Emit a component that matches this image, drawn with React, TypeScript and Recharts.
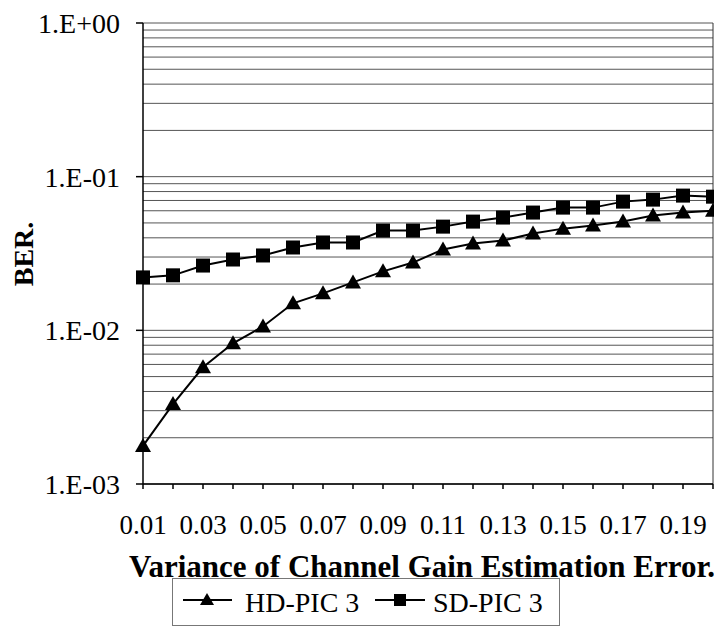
import { Label, Legend, Line, LineChart, ReferenceLine, XAxis, YAxis } from "recharts"

const variance = [
  0.01, 0.02, 0.03, 0.04, 0.05, 0.06, 0.07, 0.08, 0.09, 0.1,
  0.11, 0.12, 0.13, 0.14, 0.15, 0.16, 0.17, 0.18, 0.19, 0.2,
]

const hdPic3 = [
  0.00177, 0.00331, 0.00575, 0.00824, 0.0106, 0.015, 0.0174, 0.0205, 0.0242, 0.0276,
  0.0336, 0.0367, 0.0384, 0.0427, 0.0459, 0.0481, 0.051, 0.0558, 0.0584, 0.0601,
]

const sdPic3 = [
  0.0221, 0.0228, 0.0264, 0.0289, 0.0307, 0.0346, 0.0373, 0.0373, 0.0446, 0.0446,
  0.0473, 0.051, 0.0542, 0.0584, 0.0629, 0.0629, 0.0688, 0.0709, 0.0753, 0.0741,
]

const yTicks = [0.001, 0.01, 0.1, 1]
const yTickLabels = ["1.E-03", "1.E-02", "1.E-01", "1.E+00"]

// log gridlines: 1..9 within each decade, plus the top edge
const gridValues = [0.001, 0.01, 0.1].flatMap((d) => [1, 2, 3, 4, 5, 6, 7, 8, 9].map((k) => k * d)).concat([1])

const data = variance.map((x, i) => ({ x, hd: hdPic3[i], sd: sdPic3[i] }))

const FONT = "'Liberation Serif', 'DejaVu Serif', serif"

const TriangleDot = (props: any) => {
  const { cx, cy, index } = props
  if (cx == null || cy == null) return <g key={`t${index}`} />
  return <path key={`t${index}`} d={`M${cx},${cy - 8} L${cx + 8},${cy + 6} L${cx - 8},${cy + 6} Z`} fill="#000" />
}

const SquareDot = (props: any) => {
  const { cx, cy, index } = props
  if (cx == null || cy == null) return <g key={`s${index}`} />
  return <rect key={`s${index}`} x={cx - 7} y={cy - 7} width={14} height={14} fill="#000" />
}

const LegendBox = () => (
  <svg width={388} height={48} style={{ display: "block" }}>
    <rect x={0.5} y={0.5} width={387} height={47} fill="#fff" stroke="#777" />
    <line x1={11} x2={60} y1={22} y2={22} stroke="#000" strokeWidth={2} />
    <path d="M35,15 L42,27 L28,27 Z" fill="#000" />
    <text x={73} y={34} style={{ fontFamily: FONT, fontSize: 28 }} fill="#000">HD-PIC 3</text>
    <line x1={203} x2={253} y1={22} y2={22} stroke="#000" strokeWidth={2} />
    <rect x={222} y={16} width={12} height={12} fill="#000" />
    <text x={261} y={34} style={{ fontFamily: FONT, fontSize: 28 }} fill="#000">SD-PIC 3</text>
  </svg>
)

export default function App() {
  return (
    <div style={{ position: "absolute", left: 0, top: 0, width: 714, height: 626, background: "#fff", fontFamily: FONT }}>
      <LineChart width={714} height={626} data={data} margin={{ top: 23, right: 1, left: 0, bottom: 0 }} style={{ fontFamily: FONT }}>
        {gridValues.map((v) => (
          <ReferenceLine key={v} y={v} stroke="#555" strokeWidth={1} />
        ))}
        <ReferenceLine x={0.2} stroke="#333" strokeWidth={1} />
        <XAxis
          dataKey="x"
          type="number"
          domain={[0.01, 0.2]}
          ticks={variance}
          interval={0}
          height={142}
          tickSize={5}
          tickMargin={26}
          stroke="#000"
          strokeWidth={1.5}
          tick={{ fill: "#000", fontSize: 27, style: { fontFamily: FONT } }}
          tickFormatter={(v: number, i: number) => (i % 2 === 0 ? v.toFixed(2) : "")}
        >
          <Label
            content={() => (
              <text x={422} y={577} textAnchor="middle" style={{ fontFamily: FONT, fontSize: 31, fontWeight: "bold" }} fill="#000">
                Variance of Channel Gain Estimation Error.
              </text>
            )}
          />
        </XAxis>
        <YAxis
          type="number"
          scale="log"
          domain={[0.001, 1]}
          ticks={yTicks}
          allowDataOverflow
          width={143}
          tickSize={7}
          tickMargin={16}
          stroke="#000"
          strokeWidth={1.5}
          tick={{ fill: "#000", fontSize: 28, style: { fontFamily: FONT } }}
          tickFormatter={(v: number) => yTickLabels[yTicks.indexOf(v)] ?? ""}
        >
          <Label
            content={() => (
              <text
                x={33}
                y={254}
                transform="rotate(-90 33 254)"
                textAnchor="middle"
                style={{ fontFamily: FONT, fontSize: 28, fontWeight: "bold" }}
                fill="#000"
              >
                BER.
              </text>
            )}
          />
        </YAxis>
        <Legend
          verticalAlign="middle"
          align="center"
          content={LegendBox}
          wrapperStyle={{ position: "absolute", left: 172, top: 578, width: 388, height: 48 }}
        />
        <Line
          dataKey="hd"
          name="HD-PIC 3"
          stroke="#000"
          strokeWidth={2}
          dot={TriangleDot}
          activeDot={false}
          isAnimationActive={false}
        />
        <Line
          dataKey="sd"
          name="SD-PIC 3"
          stroke="#000"
          strokeWidth={2}
          dot={SquareDot}
          activeDot={false}
          isAnimationActive={false}
        />
      </LineChart>
    </div>
  )
}
